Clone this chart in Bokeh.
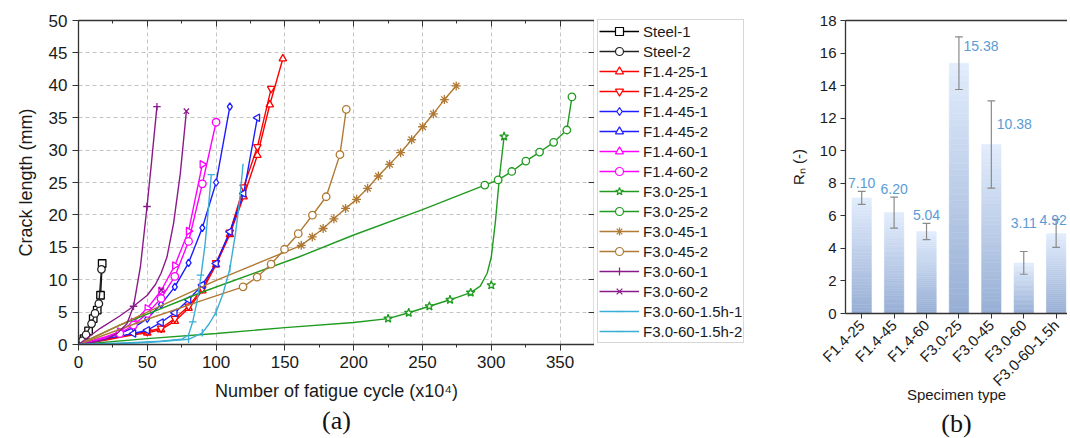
import math
from bokeh.plotting import figure
from bokeh.models import (LinearAxis, Range1d, SingleIntervalTicker, FixedTicker,
                          Legend, LegendItem, ColumnDataSource, Title)
from bokeh.layouts import row
from bokeh.embed import file_html
from bokeh.resources import INLINE
from bokeh.core.properties import value

# ---------------- crack growth data (cycles x10^4, crack length mm) ----------------
steel1_x = [0, 4, 7.3, 10.7, 13.6, 16, 17.2]
steel1_y = [0, 0.9, 2.1, 4.0, 5.3, 7.6, 12.5]
steel2_x = [0, 3, 5.5, 9.5, 12, 14.8, 16.7]
steel2_y = [0, 0.6, 1.5, 3.2, 4.8, 6.3, 11.6]

f14_25_1_x = [0, 20, 30, 40, 50, 60, 70, 80, 90, 100, 110, 120, 130, 139, 148.5]
f14_25_1_y = [0, 0.7, 1.1, 1.5, 1.8, 2.3, 3.6, 5.6, 8.3, 12.3, 17.0, 22.8, 29.2, 37.0, 44.1]
f14_25_2_x = [0, 20, 30, 40, 50, 60, 70, 80, 90, 100, 110, 120, 130, 140]
f14_25_2_y = [0, 0.8, 1.2, 1.6, 2.0, 2.5, 4.0, 5.9, 8.6, 12.6, 17.3, 24.3, 30.5, 39.5]

f14_45_1_x = [0, 20, 30, 40, 50, 60, 70, 80, 90, 100, 110]
f14_45_1_y = [0, 1.0, 1.7, 2.6, 4.0, 6.2, 8.9, 12.6, 18.0, 25.0, 36.7]
f14_45_2_x = [0, 20, 30, 40, 50, 60, 70, 80, 90, 100, 110, 120, 130]
f14_45_2_y = [0, 0.9, 1.3, 1.7, 2.2, 3.4, 4.9, 6.9, 9.2, 12.5, 17.4, 23.3, 35.0]

f14_60_1_x = [0, 20, 30, 40, 50, 60, 70, 80, 90]
f14_60_1_y = [0, 1.2, 2.0, 3.5, 5.6, 8.3, 12.2, 17.5, 27.8]
f14_60_2_x = [0, 20, 30, 40, 50, 60, 70, 80, 90, 100]
f14_60_2_y = [0, 1.0, 1.7, 3.0, 4.8, 7.1, 10.5, 15.9, 24.8, 34.3]

f30_25_1_x = [225, 240, 255, 270, 285, 300, 309.3]
f30_25_1_y = [4.0, 4.9, 5.9, 6.9, 8.0, 9.15, 32.1]
f30_25_1_fit_x = [0, 50, 100, 150, 200, 225, 240, 255, 270, 285, 292, 297, 300, 303, 306, 309.3]
f30_25_1_fit_y = [0, 0.9, 1.7, 2.6, 3.4, 4.0, 4.9, 5.9, 6.9, 8.0, 9.0, 11.0, 13.5, 19.0, 26.0, 32.1]

f30_25_2_x = [295.3, 305, 314.9, 325.1, 335.1, 345.3, 354.9, 358.6]
f30_25_2_y = [24.6, 25.4, 26.7, 28.3, 29.7, 31.2, 33.1, 38.2]
f30_25_2_fit_x = [0, 30, 90, 160, 200, 250, 295.3, 305, 314.9, 325.1, 335.1, 345.3, 354.9, 358.6]
f30_25_2_fit_y = [0, 3.0, 8.1, 13.5, 16.9, 20.8, 24.6, 25.4, 26.7, 28.3, 29.7, 31.2, 33.1, 38.2]

f30_45_1_x = [161.9, 169.9, 177.8, 185.6, 194.1, 202.1, 210.1, 217.9, 226.1, 234.1,
              242.1, 250.1, 257.9, 265.9, 274.5]
f30_45_1_y = [15.3, 16.6, 17.9, 19.4, 21.0, 22.4, 24.1, 26.0, 27.8, 29.6,
              31.6, 33.6, 35.6, 37.8, 39.9]
f30_45_1_fit_x = [0, 50, 100] + f30_45_1_x
f30_45_1_fit_y = [0, 5.0, 9.9] + f30_45_1_y

f30_45_2_x = [119.6, 129.8, 140, 149.7, 159.7, 170, 180, 190, 194.6]
f30_45_2_y = [8.9, 10.4, 12.4, 14.7, 17.1, 19.95, 22.8, 29.3, 36.3]
f30_45_2_fit_x = [0, 50, 90] + f30_45_2_x
f30_45_2_fit_y = [0, 3.9, 6.8] + f30_45_2_y

f30_60_1_x = [40, 49.8, 57]
f30_60_1_y = [5.9, 21.3, 36.7]
f30_60_1_fit_x = [0, 10, 20, 28, 35.2, 40, 45, 49.8, 53, 57]
f30_60_1_fit_y = [0, 0.3, 0.8, 1.7, 3.2, 5.9, 12.0, 21.3, 28.0, 36.7]

f30_60_2_x = [60.2, 78.4]
f30_60_2_y = [8.4, 36.0]
f30_60_2_fit_x = [0, 15.8, 30, 40, 50, 56, 60, 64.3, 69.1, 74, 78.4]
f30_60_2_fit_y = [0, 2.5, 4.4, 5.9, 7.6, 9.3, 11.0, 13.5, 18.7, 26.4, 36.0]

f30_60h_1_x = [83, 88.6, 96.5]
f30_60h_1_y = [3.5, 10.7, 26.2]
f30_60h_1_fit_x = [0, 30, 60, 75, 80, 83, 86, 89, 92, 94, 96.5]
f30_60h_1_fit_y = [0, 0.2, 0.5, 0.8, 1.5, 3.5, 6.5, 10.5, 15.5, 20.0, 26.2]

f30_60h_2_x = [80, 90, 100, 110]
f30_60h_2_y = [0.8, 1.8, 5.0, 11.7]
f30_60h_2_fit_x = [0, 50, 80, 90, 95, 100, 105, 110, 114, 117, 119.6]
f30_60h_2_fit_y = [0, 0.3, 0.8, 1.8, 3.2, 5.0, 7.8, 11.7, 17.0, 22.0, 27.9]

# ---------------- normalised fatigue life ----------------
rn_types = ["F1.4-25", "F1.4-45", "F1.4-60", "F3.0-25", "F3.0-45", "F3.0-60", "F3.0-60-1.5h"]
rn_mean = [7.10, 6.20, 5.04, 15.38, 10.38, 3.11, 4.92]
rn_err = [0.40, 0.95, 0.50, 1.62, 2.68, 0.70, 0.86]

FONT = "Liberation Sans"
RED, BLUE, MAG = "#ff0000", "#1c1cff", "#ff00ff"
GREEN, BROWN, PURPLE, CYAN = "#1f9b1f", "#b07a34", "#8a1a8a", "#3aaed6"

# name, line xs, line ys, marker xs, marker ys, colour, marker, marker angle
series = [
    ("Steel-1", steel1_x, steel1_y, steel1_x[1:], steel1_y[1:], "#000000", "square", 0),
    ("Steel-2", steel2_x, steel2_y, steel2_x[1:], steel2_y[1:], "#222222", "circle", 0),
    ("F1.4-25-1", f14_25_1_x, f14_25_1_y, f14_25_1_x[4:], f14_25_1_y[4:], RED, "triangle", 0),
    ("F1.4-25-2", f14_25_2_x, f14_25_2_y, f14_25_2_x[4:], f14_25_2_y[4:], RED, "inverted_triangle", 0),
    ("F1.4-45-1", f14_45_1_x, f14_45_1_y, f14_45_1_x[3:], f14_45_1_y[3:], BLUE, "diamond", 0),
    ("F1.4-45-2", f14_45_2_x, f14_45_2_y, f14_45_2_x[3:], f14_45_2_y[3:], BLUE, "triangle", math.pi / 2),
    ("F1.4-60-1", f14_60_1_x, f14_60_1_y, f14_60_1_x[2:], f14_60_1_y[2:], MAG, "triangle", -math.pi / 2),
    ("F1.4-60-2", f14_60_2_x, f14_60_2_y, f14_60_2_x[2:], f14_60_2_y[2:], MAG, "circle", 0),
    ("F3.0-25-1", f30_25_1_fit_x, f30_25_1_fit_y, f30_25_1_x, f30_25_1_y, GREEN, "star", 0),
    ("F3.0-25-2", f30_25_2_fit_x, f30_25_2_fit_y, f30_25_2_x, f30_25_2_y, GREEN, "circle", 0),
    ("F3.0-45-1", f30_45_1_fit_x, f30_45_1_fit_y, f30_45_1_x, f30_45_1_y, BROWN, "asterisk", 0),
    ("F3.0-45-2", f30_45_2_fit_x, f30_45_2_fit_y, f30_45_2_x, f30_45_2_y, BROWN, "circle", 0),
    ("F3.0-60-1", f30_60_1_fit_x, f30_60_1_fit_y, f30_60_1_x, f30_60_1_y, PURPLE, "cross", 0),
    ("F3.0-60-2", f30_60_2_fit_x, f30_60_2_fit_y, f30_60_2_x, f30_60_2_y, PURPLE, "x", 0),
    ("F3.0-60-1.5h-1", f30_60h_1_fit_x, f30_60h_1_fit_y, f30_60h_1_x, f30_60h_1_y, CYAN, "dash", 0),
    ("F3.0-60-1.5h-2", f30_60h_2_fit_x, f30_60h_2_fit_y, f30_60h_2_x, f30_60h_2_y, CYAN, "dash", math.pi / 2),
]


def style_axis(ax, size="17px"):
    ax.axis_line_color = "#333333"
    ax.axis_line_width = 1.3
    ax.major_tick_line_color = "#333333"
    ax.minor_tick_line_color = "#333333"
    ax.major_label_text_font = FONT
    ax.major_label_text_font_size = size
    ax.major_label_text_color = "#1a1a1a"
    ax.axis_label_text_font = FONT
    ax.axis_label_text_font_style = "normal"
    ax.axis_label_text_color = "#1a1a1a"


def tick_only_axis(ticker):
    ax = LinearAxis(ticker=ticker)
    style_axis(ax, size="1px")
    ax.major_label_text_color = None
    ax.major_label_standoff = 0
    return ax


def marker_size(mk):
    return 9 if mk in ("asterisk", "star") else 7.5


# ---------------- (a) crack length vs cycles ----------------
p = figure(frame_width=516, frame_height=324, x_range=Range1d(0, 375), y_range=Range1d(0, 50),
           output_backend="svg", toolbar_location=None, frame_align=False,
           min_border_left=78, min_border_right=0, min_border_top=20, min_border_bottom=94)
p.outline_line_color = None
p.background_fill_color = "white"

p.xaxis.ticker = SingleIntervalTicker(interval=50, num_minor_ticks=2)
p.yaxis.ticker = SingleIntervalTicker(interval=5, num_minor_ticks=0)
for ax in p.xaxis + p.yaxis:
    style_axis(ax)
    ax.major_tick_out = 6
    ax.major_tick_in = 0
    ax.minor_tick_out = 3
    ax.minor_tick_in = 0
p.yaxis.minor_tick_line_color = None
p.xaxis.axis_label = "Number of fatigue cycle (x10\u2074)"
p.yaxis.axis_label = "Crack length (mm)"
p.xaxis.axis_label_text_font_size = "18px"
p.yaxis.axis_label_text_font_size = "18px"
p.xaxis.axis_label_standoff = 10
p.yaxis.axis_label_standoff = 10
p.xaxis.major_label_standoff = 5

for loc, tk in (("above", SingleIntervalTicker(interval=50, num_minor_ticks=2)),
                ("right", SingleIntervalTicker(interval=5, num_minor_ticks=0))):
    ax = tick_only_axis(tk)
    ax.major_tick_in = 6
    ax.major_tick_out = 0
    ax.minor_tick_in = 3
    ax.minor_tick_out = 0
    if loc == "right":
        ax.minor_tick_line_color = None
    p.add_layout(ax, loc)

p.grid.grid_line_color = "#c4c4c4"
p.grid.grid_line_dash = "4 3"
p.grid.grid_line_width = 1

for name, lx, ly, mx, my, col, mk, ang in series:
    p.line(lx, ly, line_color=col, line_width=1.4)
    p.scatter(mx, my, marker=mk, angle=ang, size=marker_size(mk), line_color=col,
              fill_color="white", line_width=1.3)

p.add_layout(Title(text="(a)", align="center", offset=11, text_font="Liberation Serif",
                   text_font_size="26px", text_font_style="normal", text_color="#111111",
                   standoff=0), "below")

# ---------------- key for (a), in its own narrow panel ----------------
# the key panel's ranges sit below zero, so the series drawn here only feed the key
lf = figure(frame_width=160, frame_height=324, x_range=Range1d(-2, -1), y_range=Range1d(-2, -1),
            output_backend="svg", toolbar_location=None, frame_align=False,
            x_axis_location=None, y_axis_location=None,
            min_border_left=3, min_border_right=0, min_border_top=19, min_border_bottom=95)
lf.outline_line_color = None
lf.grid.visible = False
items = []
for name, lx, ly, mx, my, col, mk, ang in series:
    kl = lf.line(lx, ly, line_color=col, line_width=1.4)
    km = lf.scatter(mx, my, marker=mk, angle=ang, size=marker_size(mk) - 1.5, line_color=col,
                    fill_color="white", line_width=1.2)
    items.append(LegendItem(label=name, renderers=[kl, km], index=0))
legend = Legend(items=items, location="top_left", ncols=1)
legend.label_text_font = FONT
legend.label_text_font_size = "15px"
legend.label_text_color = "#1a1a1a"
legend.label_height = 20
legend.glyph_height = 20
legend.glyph_width = 40
legend.label_standoff = 4
legend.spacing = 0
legend.padding = 1
legend.margin = 0
legend.border_line_color = "#b0b0b0"
legend.border_line_width = 1
lf.add_layout(legend)

# ---------------- (b) normalised life by specimen type ----------------
q = figure(frame_width=222, frame_height=293, x_range=Range1d(0.5, 7.35), y_range=Range1d(0, 18),
           output_backend="svg", toolbar_location=None, frame_align=False,
           min_border_left=88, min_border_right=0, min_border_top=20, min_border_bottom=125)
q.outline_line_color = None
q.grid.visible = False

xs = list(range(1, len(rn_types) + 1))
# bars drawn as stacked slices shading from dark (base) to light (top)
N = 40
c_bot = (0x97, 0xAE, 0xD5)
c_top = (0xE2, 0xED, 0xFC)
sl_l, sl_r, sl_b, sl_t, sl_c = [], [], [], [], []
for xc, v in zip(xs, rn_mean):
    for k in range(N):
        f = (k + 0.5) / N
        rgb = tuple(int(round(a + (b - a) * f)) for a, b in zip(c_bot, c_top))
        sl_l.append(xc - 0.3)
        sl_r.append(xc + 0.3)
        sl_b.append(v * k / N)
        sl_t.append(v * (k + 1) / N)
        sl_c.append("#%02x%02x%02x" % rgb)
q.quad(left=sl_l, right=sl_r, bottom=sl_b, top=sl_t, fill_color=sl_c, line_color=sl_c,
       line_width=0.5)

up = [m + e for m, e in zip(rn_mean, rn_err)]
lo = [m - e for m, e in zip(rn_mean, rn_err)]
ecol = "#8a8a8a"
q.segment(x0=xs, y0=lo, x1=xs, y1=up, line_color=ecol, line_width=1.2)
q.segment(x0=[x - 0.12 for x in xs], y0=up, x1=[x + 0.12 for x in xs], y1=up,
          line_color=ecol, line_width=1.2)
q.segment(x0=[x - 0.12 for x in xs], y0=lo, x1=[x + 0.12 for x in xs], y1=lo,
          line_color=ecol, line_width=1.2)

lab_src = ColumnDataSource(dict(
    x=xs, y=rn_mean, text=["%.2f" % v for v in rn_mean],
    dx=[0, 0, 0, 22, 23, 0, -3],
    dy=[-14.5, -23.5, -16.5, -17.5, -20.5, -39.5, -13.5],
))
q.text(x="x", y="y", text="text", x_offset="dx", y_offset="dy", source=lab_src,
       text_align="center", text_baseline="middle", text_color="#5b9bd5",
       text_font=value(FONT), text_font_size="14px")

q.xaxis.ticker = FixedTicker(ticks=xs)
q.xaxis.major_label_overrides = {x: t for x, t in zip(xs, rn_types)}
q.xaxis.major_label_orientation = math.pi / 4
q.yaxis.ticker = SingleIntervalTicker(interval=2, num_minor_ticks=0)
for ax in q.xaxis + q.yaxis:
    style_axis(ax, size="15px")
    ax.major_tick_out = 5
    ax.major_tick_in = 0
    ax.minor_tick_line_color = None
q.xaxis.axis_label = "Specimen type"
q.xaxis.axis_label_text_font_size = "15px"
q.xaxis.axis_label_standoff = -12
q.xaxis.major_label_standoff = 4
q.yaxis.major_label_standoff = 4
q.yaxis.axis_label = "R\u2099 (-)"
q.yaxis.axis_label_text_font_size = "15px"
q.yaxis.axis_label_standoff = 10

top_ax = tick_only_axis(FixedTicker(ticks=[]))
top_ax.major_tick_in = 0
top_ax.major_tick_out = 0
q.add_layout(top_ax, "above")

q.add_layout(Title(text="(b)", align="center", offset=-22, text_font="Liberation Serif",
                   text_font_size="26px", text_font_style="normal", text_color="#111111",
                   standoff=0), "below")

layout = row(p, lf, q, spacing=0)
open("out.html", "w").write(file_html(layout, INLINE))
